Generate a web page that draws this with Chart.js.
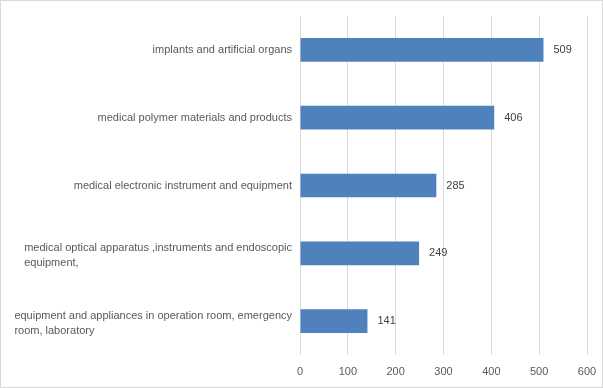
<!DOCTYPE html>
<html>
<head>
<meta charset="utf-8">
<script src="https://cdn.jsdelivr.net/npm/chart.js@4"></script>
<style>
  body { margin: 0; background: #fff; }
  #wrap { width: 603px; height: 388px; box-sizing: border-box; border: 1px solid #d9d9d9; }
</style>
</head>
<body>
<div id="wrap"><canvas id="chart"></canvas></div>
<script>
const categories = [
  ["implants and artificial organs"],
  ["medical polymer materials and products"],
  ["medical electronic instrument and equipment"],
  ["medical optical apparatus ,instruments and endoscopic", "equipment,"],
  ["equipment and appliances in operation room, emergency", "room, laboratory"]
];
const values = [509, 406, 285, 249, 141];
const xTicks = [0, 100, 200, 300, 400, 500, 600];

const FAMILY = "'Liberation Sans', Arial, sans-serif";
const FONT = "11px " + FAMILY;

// category labels: block right-aligned, lines left-aligned (like the original)
const labelPlugin = {
  id: "labels",
  afterDraw(chart) {
    const ctx = chart.ctx;
    const y = chart.scales.y;
    const right = chart.chartArea.left - 8;
    ctx.save();
    ctx.font = FONT;
    ctx.fillStyle = "#595959";
    ctx.textBaseline = "middle";
    ctx.textAlign = "left";
    categories.forEach((lines, i) => {
      const w = Math.max(...lines.map((l) => ctx.measureText(l).width));
      const cy = y.getPixelForTick(i);
      const lh = 15;
      const y0 = cy - ((lines.length - 1) * lh) / 2 + (lines.length > 1 ? 2 : 0);
      lines.forEach((l, k) => ctx.fillText(l, right - w, y0 + k * lh));
    });
    // value labels at bar ends
    const meta = chart.getDatasetMeta(0);
    ctx.fillStyle = "#404040";
    meta.data.forEach((bar, i) => {
      ctx.fillText(String(values[i]), bar.x + 10, bar.y);
    });
    ctx.restore();
  }
};

new Chart(document.getElementById("chart"), {
  type: "bar",
  data: {
    labels: categories.map((c) => c.join(" ")),
    datasets: [{
      data: values,
      backgroundColor: "#4f81bd",
      barPercentage: 0.7,
      categoryPercentage: 0.5
    }]
  },
  options: {
    indexAxis: "y",
    responsive: true,
    maintainAspectRatio: false,
    animation: false,
    layout: { padding: { top: 15, right: 15, left: 0, bottom: 0 } },
    plugins: { legend: { display: false }, tooltip: { enabled: false } },
    scales: {
      x: {
        min: 0,
        max: 600,
        afterBuildTicks: (s) => { s.ticks = xTicks.map((v) => ({ value: v })); },
        afterFit: (s) => { s.height = 32; },
        grid: { color: "#d9d9d9", drawTicks: true, tickLength: 7, tickColor: "rgba(0,0,0,0)" },
        border: { display: false },
        ticks: { color: "#595959", font: { family: FAMILY, size: 11 }, padding: 3 }
      },
      y: {
        afterFit: (s) => { s.width = 299; },
        grid: { display: false },
        border: { display: false },
        ticks: { display: false }
      }
    }
  },
  plugins: [labelPlugin]
});
</script>
</body>
</html>
